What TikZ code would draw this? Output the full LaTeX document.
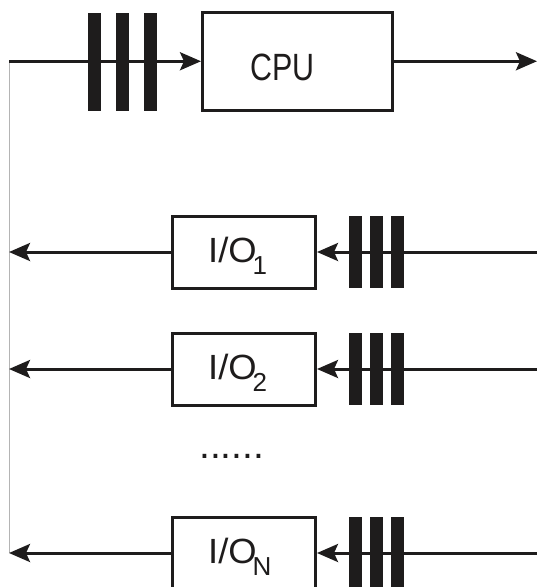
\documentclass[tikz,border=0pt]{standalone}
\usepackage{graphicx}
\usepackage{fontspec}
\setmainfont{Liberation Sans}
\usetikzlibrary{arrows.meta}
\definecolor{ink}{HTML}{1E1C1C}
\definecolor{rail}{HTML}{B4B4B4}
\newcommand{\iolabel}[1]{\fontsize{35}{35}\selectfont\scalebox{1.04}[1]{I/O}\kern-4pt\raisebox{-12.5pt}{\fontsize{26}{26}\selectfont #1}}
\begin{document}
\begin{tikzpicture}[x=1pt,y=-1pt,
  box/.style={draw=ink,line width=3pt,rectangle,inner sep=0pt},
  iobox/.style={box,minimum width=143pt,minimum height=72pt},
  wire/.style={draw=ink,line width=3pt},
  arr/.style={wire,-{Stealth[length=21pt,width=18pt,inset=4pt]}},
  bar/.style={fill=ink},
  lbl/.style={anchor=base west,inner sep=0pt,text=ink},
  railline/.style={draw=rail,line width=1pt}]
\useasboundingbox (0,0) rectangle (537,587);
\clip (0,0) rectangle (537,587);
% coordinates
\coordinate (l0) at (9,61.25);
\coordinate (lN) at (9,553);
\coordinate (rout) at (537,61.25);
\coordinate (r1) at (537,252);
\coordinate (r2) at (537,369);
\coordinate (rN) at (537,553);
% boxes
\node[box,minimum width=190pt,minimum height=98.5pt] (cpu) at (297.5,61.25) {};
\node[iobox] (io1) at (244,252) {};
\node[iobox] (io2) at (244,369) {};
\node[iobox] (ioN) at (244,553) {};
% left rail
\draw[railline] (l0) -- (lN);
% CPU connections
\draw[arr] (l0) -- (cpu.west);
\draw[arr] (cpu.east) -- (rout);
% I/O connections
\foreach \n in {1,2,N}{
  \draw[arr] (io\n.west) -- (io\n.west -| l0);
  \draw[arr] (r\n) -- (io\n.east);
}
% bars top
\foreach \x in {88,116,144}{
  \fill[bar] (\x,12.5) rectangle (\x+12.5,110.5);
}
% bars rows
\foreach \x in {348.5,369.5,390.5}{
  \fill[bar] (\x,216) rectangle (\x+13,288);
  \fill[bar] (\x,333) rectangle (\x+13,405);
  \fill[bar] (\x,517) rectangle (\x+13,589);
}
% labels
\node[lbl] (cpulbl) at (250,80) {\fontsize{38}{38}\selectfont\scalebox{0.8}[1]{CPU}};
\node[lbl] (io1lbl) at (208,262) {\iolabel{1}};
\node[lbl] (io2lbl) at (208,379) {\iolabel{2}};
\node[lbl] (ioNlbl) at (208,563) {\iolabel{N}};
\node[lbl] (dots) at (199,458) {\fontsize{39}{39}\selectfont ......};
\end{tikzpicture}
\end{document}
